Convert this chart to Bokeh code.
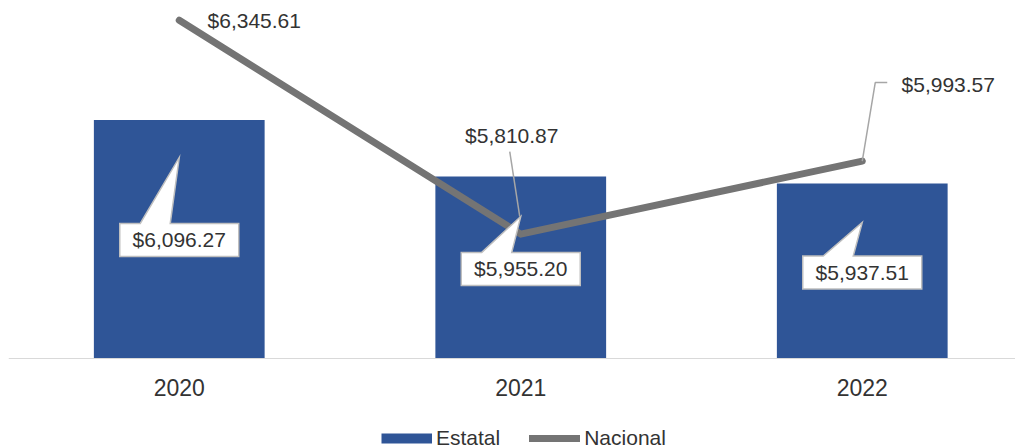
from bokeh.plotting import figure
from bokeh.models import Range1d, FixedTicker, Legend, LegendItem
from bokeh.embed import file_html
from bokeh.resources import INLINE
from bokeh.core.properties import value

# Series
years = ["2020", "2021", "2022"]
estatal = [6096.27, 5955.20, 5937.51]
nacional = [6345.61, 5810.87, 5993.57]

BLUE = "#2F5597"
GREY_LINE = "#747474"
LEADER = "#a6a6a6"
TEXT = "#333333"
FONT = "Liberation Sans"

W, H = 1015, 446
LEFT = 8
FW = W - LEFT
BASE_PX = 358        # screen row of the value axis base
Y0 = 5500            # value at the base of the bars
UPP_Y = 2.5          # value units per screen pixel
X0 = -0.5
SLOT = 341.5         # screen pixels per category


def px(x, dx):
    return x + dx / SLOT


def py(v, dy):
    # dy in screen pixels, positive = downward
    return v - dy * UPP_Y


p = figure(width=W, height=H, output_backend="svg", toolbar_location=None,
           x_range=Range1d(X0, X0 + FW / SLOT),
           y_range=Range1d(Y0 - (H - BASE_PX) * UPP_Y, Y0 + BASE_PX * UPP_Y),
           y_axis_location=None,
           min_border_left=LEFT, min_border_right=0,
           min_border_top=0, min_border_bottom=0)
p.outline_line_color = None
p.xgrid.visible = False
p.ygrid.visible = False
p.background_fill_color = "white"

xs = list(range(len(years)))

p.vbar(x=xs, top=estatal, bottom=Y0, width=0.5, fill_color=BLUE, line_color=None)
nac_r = p.line(xs, nacional, line_width=7, line_color=GREY_LINE,
               line_cap="round", line_join="round")

# Callout boxes for the state values
box_w, box_h = 119, 33
box_dy = [120, 92.5, 89]
tip_dy = [37.5, 40, 39]
notch = (-39, -9)
cx_list, cy_list = [], []
pxs, pys = [], []
for i, (x, v) in enumerate(zip(xs, estatal)):
    bcy = box_dy[i]
    L, R = px(x, -box_w / 2), px(x, box_w / 2)
    T, B = py(v, bcy - box_h / 2), py(v, bcy + box_h / 2)
    pxs.append([L, px(x, notch[0]), x, px(x, notch[1]), R, R, L])
    pys.append([T, T, py(v, tip_dy[i]), T, T, B, B])
    cx_list.append(x)
    cy_list.append(py(v, bcy))
p.patches(pxs, pys, fill_color="white", line_color="#bfbfbf", line_width=1.5,
          line_join="miter")
p.text(cx_list, cy_list, text=[f"${v:,.2f}" for v in estatal],
       text_font=value(FONT), text_font_size="21px", text_color=TEXT,
       text_align="center", text_baseline="middle")

# National value labels with leader lines
lab_dx = [75, -9, 86]
lab_dy = [0, -98.5, -76.5]
p.text([px(x, lab_dx[i]) for i, x in enumerate(xs)],
       [py(v, lab_dy[i]) for i, v in enumerate(nacional)],
       text=[f"${v:,.2f}" for v in nacional],
       text_font=value(FONT), text_font_size="21px", text_color=TEXT,
       text_align="center", text_baseline="middle")

leaders = {1: [(-11, -82.5), (-1, -17.5)], 2: [(25, -78.5), (13, -78.5), (0, 0)]}
lx, ly = [], []
for i, pts in leaders.items():
    lx.append([px(xs[i], d[0]) for d in pts])
    ly.append([py(nacional[i], d[1]) for d in pts])
p.multi_line(lx, ly, line_color=LEADER, line_width=1.5)

# Category axis pinned to the bar base
p.xaxis.fixed_location = Y0
p.xaxis.ticker = FixedTicker(ticks=xs)
p.xaxis.major_label_overrides = {i: y for i, y in zip(xs, years)}
p.xaxis.major_label_text_font = FONT
p.xaxis.major_label_text_font_size = "23px"
p.xaxis.major_label_text_color = TEXT
p.xaxis.major_label_standoff = 20
p.xaxis.major_tick_line_color = None
p.xaxis.minor_tick_line_color = None
p.xaxis.major_tick_out = 0
p.xaxis.axis_line_color = "#d9d9d9"
p.xaxis.axis_line_width = 1

# Legend swatch for the bars (drawn outside the visible range)
est_swatch = p.line([X0 - 1, X0 - 0.9], [Y0, Y0], line_width=10,
                    line_color=BLUE, line_cap="butt")
legend = Legend(items=[LegendItem(label="Estatal", renderers=[est_swatch]),
                       LegendItem(label="Nacional", renderers=[nac_r])],
                orientation="horizontal", location=(373, -4),
                glyph_width=51, glyph_height=20, label_standoff=4, spacing=29,
                padding=0, margin=0, border_line_color=None,
                background_fill_alpha=0,
                label_text_font=FONT, label_text_font_size="21px",
                label_text_color=TEXT)
p.add_layout(legend)

open("out.html", "w").write(file_html(p, INLINE))
